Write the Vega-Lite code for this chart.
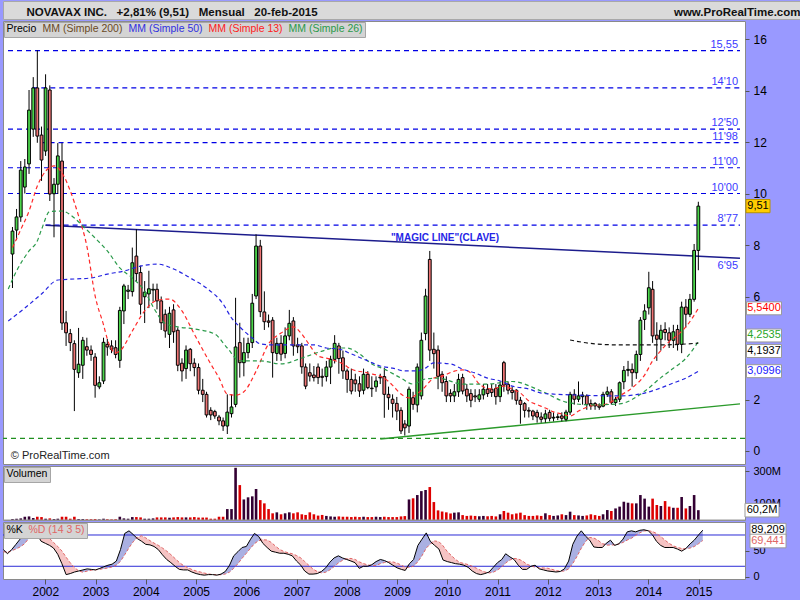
{
"$schema":"https://vega.github.io/schema/vega-lite/v6.json",
"background":"#9999ff",
"padding":{"left":0,"top":0,"right":0,"bottom":2},
"autosize":{"type":"pad"},
"spacing":2,
"bounds":"flush",
"config":{"view":{"stroke":"#8a8a8a","fill":"#ffffff"},"font":"Liberation Sans",
"axis":{"labelFont":"Liberation Sans","labelFontSize":12,"labelColor":"#000000","tickColor":"#555555","domain":false,"grid":false,"labelOverlap":false},
"legend":{"orient":"top-left","direction":"horizontal","offset":1,"padding":2,"fillColor":"#d4d4d4","strokeColor":"#a6a6a6","symbolType":"circle","symbolSize":0,"symbolStrokeWidth":0,"symbolOpacity":0,"labelOffset":-10,"columnPadding":5,"labelFont":"Liberation Sans","labelFontSize":10.5,"labelLimit":300}},
"datasets":{
"candles":[
{"d":"2001-04-01","o":7.65,"h":8.7,"l":6.33,"c":8.54,"v":6},
{"d":"2001-05-01","o":8.58,"h":9.4,"l":8.19,"c":9.09,"v":8},
{"d":"2001-06-01","o":9.09,"h":11.26,"l":8.9,"c":10.91,"v":10},
{"d":"2001-07-01","o":10.25,"h":11.34,"l":10.0,"c":11.03,"v":20},
{"d":"2001-08-01","o":11.15,"h":14.02,"l":10.76,"c":13.24,"v":22},
{"d":"2001-09-01","o":12.5,"h":14.52,"l":12.2,"c":14.1,"v":12},
{"d":"2001-10-01","o":14.1,"h":15.56,"l":11.97,"c":12.23,"v":20},
{"d":"2001-11-01","o":12.27,"h":12.6,"l":10.49,"c":11.3,"v":18},
{"d":"2001-12-01","o":11.65,"h":14.63,"l":11.46,"c":14.1,"v":8},
{"d":"2002-01-01","o":14.02,"h":14.2,"l":9.71,"c":9.98,"v":10},
{"d":"2002-02-01","o":9.99,"h":10.6,"l":8.3,"c":10.36,"v":6},
{"d":"2002-03-01","o":10.36,"h":11.96,"l":9.98,"c":11.46,"v":8},
{"d":"2002-04-01","o":11.26,"h":11.96,"l":4.7,"c":4.97,"v":20},
{"d":"2002-05-01","o":4.98,"h":5.44,"l":4.08,"c":4.59,"v":20},
{"d":"2002-06-01","o":4.56,"h":4.74,"l":3.88,"c":4.21,"v":8},
{"d":"2002-07-01","o":4.17,"h":4.3,"l":1.55,"c":3.17,"v":20},
{"d":"2002-08-01","o":3.04,"h":4.78,"l":2.84,"c":3.37,"v":6},
{"d":"2002-09-01","o":3.33,"h":4.43,"l":2.8,"c":4.3,"v":6},
{"d":"2002-10-01","o":4.05,"h":4.4,"l":3.7,"c":3.92,"v":5},
{"d":"2002-11-01","o":3.92,"h":4.1,"l":3.5,"c":3.75,"v":5},
{"d":"2002-12-01","o":3.65,"h":3.8,"l":2.07,"c":2.55,"v":6},
{"d":"2003-01-01","o":2.49,"h":2.9,"l":2.4,"c":2.65,"v":4},
{"d":"2003-02-01","o":2.72,"h":4.4,"l":2.6,"c":4.22,"v":8},
{"d":"2003-03-01","o":4.14,"h":4.35,"l":3.7,"c":4.04,"v":5},
{"d":"2003-04-01","o":4.08,"h":4.3,"l":3.8,"c":3.95,"v":4},
{"d":"2003-05-01","o":4.01,"h":4.3,"l":3.6,"c":3.75,"v":5},
{"d":"2003-06-01","o":3.52,"h":5.6,"l":3.23,"c":5.46,"v":20},
{"d":"2003-07-01","o":5.44,"h":6.49,"l":4.93,"c":6.41,"v":10},
{"d":"2003-08-01","o":6.2,"h":6.45,"l":5.9,"c":6.25,"v":8},
{"d":"2003-09-01","o":6.19,"h":7.9,"l":6.0,"c":7.31,"v":18},
{"d":"2003-10-01","o":7.57,"h":8.61,"l":6.6,"c":6.89,"v":18},
{"d":"2003-11-01","o":6.93,"h":7.2,"l":5.3,"c":5.7,"v":16},
{"d":"2003-12-01","o":5.99,"h":6.6,"l":4.97,"c":6.17,"v":8},
{"d":"2004-01-01","o":6.1,"h":7.0,"l":5.55,"c":6.3,"v":8},
{"d":"2004-02-01","o":6.25,"h":6.5,"l":5.8,"c":6.28,"v":10},
{"d":"2004-03-01","o":6.28,"h":6.5,"l":5.5,"c":5.83,"v":16},
{"d":"2004-04-01","o":5.83,"h":6.0,"l":4.7,"c":4.98,"v":16},
{"d":"2004-05-01","o":5.31,"h":5.5,"l":4.4,"c":4.66,"v":16},
{"d":"2004-06-01","o":4.53,"h":5.6,"l":4.0,"c":5.35,"v":14},
{"d":"2004-07-01","o":5.48,"h":5.7,"l":4.2,"c":4.63,"v":16},
{"d":"2004-08-01","o":4.69,"h":4.8,"l":3.1,"c":3.33,"v":18},
{"d":"2004-09-01","o":3.41,"h":3.6,"l":2.7,"c":3.11,"v":16},
{"d":"2004-10-01","o":3.2,"h":4.1,"l":2.8,"c":3.92,"v":16},
{"d":"2004-11-01","o":3.95,"h":4.0,"l":3.1,"c":3.39,"v":16},
{"d":"2004-12-01","o":3.41,"h":3.6,"l":2.9,"c":3.24,"v":18},
{"d":"2005-01-01","o":3.24,"h":3.4,"l":2.2,"c":2.36,"v":15},
{"d":"2005-02-01","o":2.36,"h":2.8,"l":1.9,"c":2.2,"v":15},
{"d":"2005-03-01","o":2.2,"h":2.3,"l":1.3,"c":1.4,"v":15},
{"d":"2005-04-01","o":1.58,"h":1.7,"l":1.2,"c":1.4,"v":8},
{"d":"2005-05-01","o":1.53,"h":1.6,"l":1.25,"c":1.36,"v":8},
{"d":"2005-06-01","o":1.32,"h":1.4,"l":1.0,"c":1.17,"v":20},
{"d":"2005-07-01","o":1.17,"h":1.3,"l":0.78,"c":0.97,"v":20},
{"d":"2005-08-01","o":0.97,"h":2.2,"l":0.66,"c":1.51,"v":67},
{"d":"2005-09-01","o":1.45,"h":2.2,"l":1.3,"c":1.71,"v":67},
{"d":"2005-10-01","o":1.81,"h":5.95,"l":1.7,"c":4.04,"v":320},
{"d":"2005-11-01","o":4.21,"h":4.98,"l":2.85,"c":3.43,"v":214},
{"d":"2005-12-01","o":3.43,"h":4.4,"l":2.9,"c":3.82,"v":126},
{"d":"2006-01-01","o":3.82,"h":4.4,"l":3.6,"c":4.18,"v":139},
{"d":"2006-02-01","o":4.21,"h":6.1,"l":4.0,"c":5.74,"v":145},
{"d":"2006-03-01","o":6.02,"h":8.41,"l":5.9,"c":7.96,"v":190},
{"d":"2006-04-01","o":7.96,"h":8.2,"l":5.2,"c":5.41,"v":122},
{"d":"2006-05-01","o":5.4,"h":6.2,"l":4.7,"c":5.02,"v":102},
{"d":"2006-06-01","o":5.05,"h":5.3,"l":4.8,"c":5.0,"v":67},
{"d":"2006-07-01","o":5.08,"h":5.2,"l":2.85,"c":3.82,"v":41},
{"d":"2006-08-01","o":3.79,"h":4.4,"l":3.5,"c":4.18,"v":47},
{"d":"2006-09-01","o":4.18,"h":4.5,"l":3.5,"c":3.76,"v":35},
{"d":"2006-10-01","o":3.79,"h":4.8,"l":3.6,"c":4.47,"v":41},
{"d":"2006-11-01","o":4.47,"h":5.48,"l":4.3,"c":4.96,"v":47},
{"d":"2006-12-01","o":5.05,"h":5.2,"l":3.7,"c":4.08,"v":41},
{"d":"2007-01-01","o":4.12,"h":4.4,"l":3.8,"c":4.05,"v":47},
{"d":"2007-02-01","o":4.08,"h":4.2,"l":3.0,"c":3.27,"v":35},
{"d":"2007-03-01","o":3.26,"h":3.4,"l":2.4,"c":2.52,"v":31},
{"d":"2007-04-01","o":3.04,"h":3.4,"l":2.7,"c":2.91,"v":47},
{"d":"2007-05-01","o":2.95,"h":3.3,"l":2.7,"c":2.85,"v":35},
{"d":"2007-06-01","o":3.26,"h":3.4,"l":2.6,"c":2.85,"v":27},
{"d":"2007-07-01","o":2.9,"h":3.2,"l":2.5,"c":2.86,"v":31},
{"d":"2007-08-01","o":2.89,"h":3.5,"l":2.7,"c":3.26,"v":25},
{"d":"2007-09-01","o":3.26,"h":3.7,"l":2.6,"c":3.56,"v":22},
{"d":"2007-10-01","o":3.56,"h":4.5,"l":3.4,"c":4.18,"v":20},
{"d":"2007-11-01","o":4.08,"h":4.2,"l":3.0,"c":3.59,"v":22},
{"d":"2007-12-01","o":3.62,"h":3.9,"l":2.8,"c":3.11,"v":20},
{"d":"2008-01-01","o":3.11,"h":3.2,"l":2.26,"c":2.78,"v":20},
{"d":"2008-02-01","o":2.78,"h":3.2,"l":2.2,"c":2.33,"v":18},
{"d":"2008-03-01","o":2.76,"h":3.0,"l":2.3,"c":2.61,"v":20},
{"d":"2008-04-01","o":2.61,"h":2.9,"l":2.1,"c":2.33,"v":18},
{"d":"2008-05-01","o":2.36,"h":3.2,"l":2.2,"c":2.98,"v":20},
{"d":"2008-06-01","o":2.98,"h":3.1,"l":2.4,"c":2.46,"v":18},
{"d":"2008-07-01","o":2.44,"h":2.9,"l":2.1,"c":2.42,"v":18},
{"d":"2008-08-01","o":2.49,"h":2.9,"l":2.3,"c":2.72,"v":20},
{"d":"2008-09-01","o":2.84,"h":3.0,"l":2.6,"c":2.87,"v":18},
{"d":"2008-10-01","o":2.89,"h":3.23,"l":1.29,"c":2.2,"v":20},
{"d":"2008-11-01","o":2.2,"h":2.5,"l":1.6,"c":2.07,"v":18},
{"d":"2008-12-01","o":2.01,"h":2.2,"l":1.3,"c":1.85,"v":18},
{"d":"2009-01-01","o":1.85,"h":2.1,"l":1.2,"c":1.55,"v":18},
{"d":"2009-02-01","o":1.58,"h":1.7,"l":0.66,"c":0.78,"v":22},
{"d":"2009-03-01","o":1.05,"h":1.2,"l":0.6,"c":0.9,"v":24},
{"d":"2009-04-01","o":0.97,"h":2.5,"l":0.7,"c":2.4,"v":126},
{"d":"2009-05-01","o":2.07,"h":2.3,"l":1.6,"c":1.81,"v":133},
{"d":"2009-06-01","o":1.79,"h":3.4,"l":1.5,"c":3.26,"v":153},
{"d":"2009-07-01","o":2.14,"h":4.6,"l":2.0,"c":4.3,"v":177},
{"d":"2009-08-01","o":4.56,"h":6.3,"l":4.3,"c":6.02,"v":184},
{"d":"2009-09-01","o":7.44,"h":7.77,"l":3.5,"c":3.92,"v":202},
{"d":"2009-10-01","o":3.95,"h":4.6,"l":3.2,"c":3.78,"v":110},
{"d":"2009-11-01","o":3.92,"h":4.1,"l":2.4,"c":2.9,"v":59},
{"d":"2009-12-01","o":2.98,"h":3.1,"l":2.3,"c":2.65,"v":52},
{"d":"2010-01-01","o":2.7,"h":2.9,"l":1.9,"c":2.14,"v":47},
{"d":"2010-02-01","o":2.24,"h":2.4,"l":1.9,"c":2.14,"v":40},
{"d":"2010-03-01","o":2.14,"h":2.6,"l":1.9,"c":2.3,"v":45},
{"d":"2010-04-01","o":2.3,"h":3.0,"l":2.1,"c":2.78,"v":47},
{"d":"2010-05-01","o":2.85,"h":3.0,"l":2.2,"c":2.33,"v":30},
{"d":"2010-06-01","o":2.4,"h":2.6,"l":1.9,"c":2.14,"v":25},
{"d":"2010-07-01","o":2.23,"h":2.4,"l":1.7,"c":1.97,"v":27},
{"d":"2010-08-01","o":2.14,"h":2.4,"l":1.9,"c":2.1,"v":25},
{"d":"2010-09-01","o":2.01,"h":2.4,"l":1.9,"c":2.18,"v":23},
{"d":"2010-10-01","o":2.18,"h":2.6,"l":2.0,"c":2.4,"v":25},
{"d":"2010-11-01","o":2.4,"h":2.6,"l":2.1,"c":2.23,"v":23},
{"d":"2010-12-01","o":2.4,"h":2.6,"l":2.1,"c":2.27,"v":25},
{"d":"2011-01-01","o":2.43,"h":2.6,"l":1.8,"c":2.11,"v":22},
{"d":"2011-02-01","o":2.11,"h":2.7,"l":1.9,"c":2.56,"v":35},
{"d":"2011-03-01","o":3.43,"h":3.5,"l":2.3,"c":2.56,"v":55},
{"d":"2011-04-01","o":2.59,"h":2.7,"l":2.2,"c":2.36,"v":45},
{"d":"2011-05-01","o":2.36,"h":2.5,"l":2.0,"c":2.27,"v":35},
{"d":"2011-06-01","o":2.36,"h":2.4,"l":1.8,"c":1.97,"v":40},
{"d":"2011-07-01","o":1.97,"h":2.1,"l":1.06,"c":1.81,"v":45},
{"d":"2011-08-01","o":1.84,"h":1.9,"l":1.3,"c":1.58,"v":30},
{"d":"2011-09-01","o":1.58,"h":1.7,"l":1.3,"c":1.55,"v":25},
{"d":"2011-10-01","o":1.55,"h":1.6,"l":1.2,"c":1.36,"v":25},
{"d":"2011-11-01","o":1.5,"h":1.6,"l":1.1,"c":1.32,"v":28},
{"d":"2011-12-01","o":1.32,"h":1.5,"l":1.1,"c":1.23,"v":25},
{"d":"2012-01-01","o":1.25,"h":1.6,"l":1.1,"c":1.44,"v":41},
{"d":"2012-02-01","o":1.5,"h":1.6,"l":1.15,"c":1.27,"v":30},
{"d":"2012-03-01","o":1.28,"h":1.5,"l":1.15,"c":1.31,"v":25},
{"d":"2012-04-01","o":1.3,"h":1.45,"l":1.2,"c":1.33,"v":28},
{"d":"2012-05-01","o":1.36,"h":1.5,"l":1.15,"c":1.27,"v":35},
{"d":"2012-06-01","o":1.23,"h":1.6,"l":1.15,"c":1.51,"v":30},
{"d":"2012-07-01","o":1.51,"h":2.3,"l":1.4,"c":2.2,"v":51},
{"d":"2012-08-01","o":2.2,"h":2.4,"l":1.8,"c":2.01,"v":30},
{"d":"2012-09-01","o":2.01,"h":2.7,"l":1.9,"c":2.14,"v":28},
{"d":"2012-10-01","o":2.11,"h":2.3,"l":1.8,"c":2.17,"v":25},
{"d":"2012-11-01","o":2.14,"h":2.2,"l":1.6,"c":1.81,"v":28},
{"d":"2012-12-01","o":1.84,"h":2.0,"l":1.6,"c":1.75,"v":35},
{"d":"2013-01-01","o":1.84,"h":1.9,"l":1.6,"c":1.75,"v":30},
{"d":"2013-02-01","o":1.75,"h":1.85,"l":1.6,"c":1.7,"v":25},
{"d":"2013-03-01","o":1.74,"h":2.3,"l":1.7,"c":2.2,"v":35},
{"d":"2013-04-01","o":2.2,"h":2.5,"l":2.1,"c":2.3,"v":61},
{"d":"2013-05-01","o":2.3,"h":2.4,"l":1.8,"c":1.88,"v":55},
{"d":"2013-06-01","o":1.88,"h":2.1,"l":1.75,"c":2.01,"v":71},
{"d":"2013-07-01","o":2.01,"h":2.7,"l":1.9,"c":2.65,"v":82},
{"d":"2013-08-01","o":2.69,"h":3.3,"l":2.4,"c":3.13,"v":112},
{"d":"2013-09-01","o":3.13,"h":3.5,"l":2.9,"c":3.17,"v":106},
{"d":"2013-10-01","o":3.17,"h":3.4,"l":2.5,"c":3.04,"v":102},
{"d":"2013-11-01","o":3.04,"h":3.9,"l":2.8,"c":3.75,"v":102},
{"d":"2013-12-01","o":3.75,"h":5.2,"l":3.5,"c":5.08,"v":153},
{"d":"2014-01-01","o":5.11,"h":5.7,"l":4.7,"c":5.44,"v":131},
{"d":"2014-02-01","o":5.56,"h":6.96,"l":5.3,"c":6.34,"v":82},
{"d":"2014-03-01","o":6.28,"h":6.6,"l":4.2,"c":4.47,"v":131},
{"d":"2014-04-01","o":4.5,"h":5.0,"l":3.5,"c":4.34,"v":92},
{"d":"2014-05-01","o":4.34,"h":4.9,"l":3.9,"c":4.69,"v":86},
{"d":"2014-06-01","o":4.72,"h":5.0,"l":4.3,"c":4.6,"v":116},
{"d":"2014-07-01","o":4.59,"h":4.8,"l":4.0,"c":4.3,"v":82},
{"d":"2014-08-01","o":4.3,"h":4.9,"l":4.0,"c":4.63,"v":75},
{"d":"2014-09-01","o":4.72,"h":4.9,"l":3.9,"c":4.14,"v":75},
{"d":"2014-10-01","o":4.14,"h":5.8,"l":3.8,"c":5.59,"v":141},
{"d":"2014-11-01","o":5.59,"h":5.9,"l":4.8,"c":5.31,"v":71},
{"d":"2014-12-01","o":5.31,"h":6.1,"l":5.2,"c":5.89,"v":86},
{"d":"2015-01-01","o":5.89,"h":8.04,"l":5.8,"c":7.79,"v":153},
{"d":"2015-02-01","o":7.79,"h":9.68,"l":7.02,"c":9.51,"v":60.2}
],
"ma":[
{"name":"MM (Simple 13)","date":"2001-04-01","v":7.9},
{"name":"MM (Simple 13)","date":"2001-06-01","v":8.6},
{"name":"MM (Simple 13)","date":"2001-08-01","v":9.32},
{"name":"MM (Simple 13)","date":"2001-10-01","v":10.29},
{"name":"MM (Simple 13)","date":"2001-12-01","v":10.87},
{"name":"MM (Simple 13)","date":"2002-02-01","v":11.07},
{"name":"MM (Simple 13)","date":"2002-04-01","v":10.8},
{"name":"MM (Simple 13)","date":"2002-06-01","v":10.1},
{"name":"MM (Simple 13)","date":"2002-08-01","v":9.13},
{"name":"MM (Simple 13)","date":"2002-10-01","v":7.96},
{"name":"MM (Simple 13)","date":"2002-12-01","v":6.02},
{"name":"MM (Simple 13)","date":"2003-02-01","v":4.9},
{"name":"MM (Simple 13)","date":"2003-03-01","v":4.35},
{"name":"MM (Simple 13)","date":"2003-05-01","v":3.81},
{"name":"MM (Simple 13)","date":"2003-06-01","v":3.88},
{"name":"MM (Simple 13)","date":"2003-09-01","v":4.66},
{"name":"MM (Simple 13)","date":"2003-12-01","v":5.44},
{"name":"MM (Simple 13)","date":"2004-03-01","v":5.85},
{"name":"MM (Simple 13)","date":"2004-06-01","v":5.9},
{"name":"MM (Simple 13)","date":"2004-09-01","v":5.44},
{"name":"MM (Simple 13)","date":"2004-12-01","v":4.54},
{"name":"MM (Simple 13)","date":"2005-04-01","v":3.38},
{"name":"MM (Simple 13)","date":"2005-06-01","v":2.84},
{"name":"MM (Simple 13)","date":"2005-08-01","v":2.21},
{"name":"MM (Simple 13)","date":"2005-10-01","v":2.17},
{"name":"MM (Simple 13)","date":"2005-12-01","v":2.3},
{"name":"MM (Simple 13)","date":"2006-03-01","v":3.1},
{"name":"MM (Simple 13)","date":"2006-06-01","v":4.16},
{"name":"MM (Simple 13)","date":"2006-09-01","v":4.58},
{"name":"MM (Simple 13)","date":"2006-12-01","v":4.82},
{"name":"MM (Simple 13)","date":"2007-02-01","v":4.54},
{"name":"MM (Simple 13)","date":"2007-04-01","v":4.1},
{"name":"MM (Simple 13)","date":"2007-06-01","v":3.69},
{"name":"MM (Simple 13)","date":"2007-09-01","v":3.57},
{"name":"MM (Simple 13)","date":"2007-12-01","v":3.38},
{"name":"MM (Simple 13)","date":"2008-02-01","v":3.18},
{"name":"MM (Simple 13)","date":"2008-06-01","v":3.03},
{"name":"MM (Simple 13)","date":"2008-10-01","v":2.83},
{"name":"MM (Simple 13)","date":"2008-12-01","v":2.55},
{"name":"MM (Simple 13)","date":"2009-02-01","v":2.21},
{"name":"MM (Simple 13)","date":"2009-04-01","v":2.06},
{"name":"MM (Simple 13)","date":"2009-07-01","v":2.35},
{"name":"MM (Simple 13)","date":"2009-10-01","v":2.83},
{"name":"MM (Simple 13)","date":"2009-12-01","v":2.91},
{"name":"MM (Simple 13)","date":"2010-03-01","v":3.1},
{"name":"MM (Simple 13)","date":"2010-05-01","v":3.15},
{"name":"MM (Simple 13)","date":"2010-07-01","v":3.03},
{"name":"MM (Simple 13)","date":"2010-09-01","v":2.6},
{"name":"MM (Simple 13)","date":"2010-12-01","v":2.41},
{"name":"MM (Simple 13)","date":"2011-03-01","v":2.52},
{"name":"MM (Simple 13)","date":"2011-05-01","v":2.4},
{"name":"MM (Simple 13)","date":"2011-07-01","v":2.25},
{"name":"MM (Simple 13)","date":"2011-09-01","v":1.94},
{"name":"MM (Simple 13)","date":"2011-11-01","v":1.8},
{"name":"MM (Simple 13)","date":"2012-01-01","v":1.67},
{"name":"MM (Simple 13)","date":"2012-03-01","v":1.52},
{"name":"MM (Simple 13)","date":"2012-05-01","v":1.44},
{"name":"MM (Simple 13)","date":"2012-07-01","v":1.36},
{"name":"MM (Simple 13)","date":"2012-09-01","v":1.55},
{"name":"MM (Simple 13)","date":"2012-12-01","v":1.75},
{"name":"MM (Simple 13)","date":"2013-04-01","v":1.83},
{"name":"MM (Simple 13)","date":"2013-07-01","v":2.14},
{"name":"MM (Simple 13)","date":"2013-10-01","v":2.45},
{"name":"MM (Simple 13)","date":"2014-01-01","v":2.95},
{"name":"MM (Simple 13)","date":"2014-03-01","v":3.5},
{"name":"MM (Simple 13)","date":"2014-05-01","v":3.9},
{"name":"MM (Simple 13)","date":"2014-07-01","v":4.25},
{"name":"MM (Simple 13)","date":"2014-09-01","v":4.5},
{"name":"MM (Simple 13)","date":"2014-11-01","v":4.82},
{"name":"MM (Simple 13)","date":"2015-02-01","v":5.54},
{"name":"MM (Simple 26)","date":"2001-03-01","v":6.29},
{"name":"MM (Simple 26)","date":"2001-05-01","v":6.99},
{"name":"MM (Simple 26)","date":"2001-08-01","v":7.77},
{"name":"MM (Simple 26)","date":"2001-10-01","v":8.16},
{"name":"MM (Simple 26)","date":"2001-11-01","v":8.6},
{"name":"MM (Simple 26)","date":"2002-01-01","v":9.3},
{"name":"MM (Simple 26)","date":"2002-04-01","v":9.32},
{"name":"MM (Simple 26)","date":"2002-07-01","v":9.05},
{"name":"MM (Simple 26)","date":"2002-09-01","v":8.74},
{"name":"MM (Simple 26)","date":"2002-12-01","v":8.27},
{"name":"MM (Simple 26)","date":"2003-03-01","v":7.77},
{"name":"MM (Simple 26)","date":"2003-06-01","v":7.11},
{"name":"MM (Simple 26)","date":"2003-09-01","v":6.72},
{"name":"MM (Simple 26)","date":"2003-12-01","v":6.21},
{"name":"MM (Simple 26)","date":"2004-02-01","v":5.6},
{"name":"MM (Simple 26)","date":"2004-05-01","v":4.95},
{"name":"MM (Simple 26)","date":"2004-08-01","v":4.82},
{"name":"MM (Simple 26)","date":"2004-12-01","v":4.74},
{"name":"MM (Simple 26)","date":"2005-05-01","v":4.54},
{"name":"MM (Simple 26)","date":"2005-08-01","v":4.0},
{"name":"MM (Simple 26)","date":"2005-11-01","v":3.5},
{"name":"MM (Simple 26)","date":"2006-04-01","v":3.5},
{"name":"MM (Simple 26)","date":"2006-09-01","v":3.38},
{"name":"MM (Simple 26)","date":"2007-02-01","v":3.61},
{"name":"MM (Simple 26)","date":"2007-07-01","v":3.88},
{"name":"MM (Simple 26)","date":"2007-10-01","v":4.0},
{"name":"MM (Simple 26)","date":"2008-01-01","v":4.0},
{"name":"MM (Simple 26)","date":"2008-04-01","v":3.77},
{"name":"MM (Simple 26)","date":"2008-07-01","v":3.38},
{"name":"MM (Simple 26)","date":"2008-10-01","v":3.18},
{"name":"MM (Simple 26)","date":"2009-02-01","v":2.83},
{"name":"MM (Simple 26)","date":"2009-05-01","v":2.6},
{"name":"MM (Simple 26)","date":"2009-08-01","v":2.8},
{"name":"MM (Simple 26)","date":"2009-11-01","v":2.83},
{"name":"MM (Simple 26)","date":"2010-05-01","v":2.6},
{"name":"MM (Simple 26)","date":"2010-11-01","v":2.6},
{"name":"MM (Simple 26)","date":"2011-05-01","v":2.7},
{"name":"MM (Simple 26)","date":"2011-12-01","v":2.33},
{"name":"MM (Simple 26)","date":"2012-06-01","v":1.9},
{"name":"MM (Simple 26)","date":"2012-12-01","v":1.79},
{"name":"MM (Simple 26)","date":"2013-07-01","v":1.83},
{"name":"MM (Simple 26)","date":"2014-01-01","v":2.32},
{"name":"MM (Simple 26)","date":"2014-05-01","v":2.85},
{"name":"MM (Simple 26)","date":"2014-08-01","v":3.21},
{"name":"MM (Simple 26)","date":"2014-11-01","v":3.6},
{"name":"MM (Simple 26)","date":"2015-02-01","v":4.25},
{"name":"MM (Simple 50)","date":"2001-03-01","v":5.05},
{"name":"MM (Simple 50)","date":"2001-07-01","v":5.55},
{"name":"MM (Simple 50)","date":"2001-11-01","v":6.1},
{"name":"MM (Simple 50)","date":"2002-03-01","v":6.64},
{"name":"MM (Simple 50)","date":"2002-07-01","v":6.68},
{"name":"MM (Simple 50)","date":"2002-11-01","v":6.72},
{"name":"MM (Simple 50)","date":"2003-03-01","v":6.87},
{"name":"MM (Simple 50)","date":"2003-07-01","v":6.99},
{"name":"MM (Simple 50)","date":"2003-11-01","v":7.18},
{"name":"MM (Simple 50)","date":"2004-03-01","v":7.26},
{"name":"MM (Simple 50)","date":"2004-07-01","v":7.07},
{"name":"MM (Simple 50)","date":"2004-11-01","v":6.72},
{"name":"MM (Simple 50)","date":"2005-03-01","v":6.33},
{"name":"MM (Simple 50)","date":"2005-07-01","v":5.71},
{"name":"MM (Simple 50)","date":"2005-09-01","v":5.17},
{"name":"MM (Simple 50)","date":"2005-11-01","v":4.82},
{"name":"MM (Simple 50)","date":"2006-02-01","v":4.39},
{"name":"MM (Simple 50)","date":"2006-04-01","v":4.16},
{"name":"MM (Simple 50)","date":"2006-07-01","v":4.12},
{"name":"MM (Simple 50)","date":"2006-12-01","v":4.12},
{"name":"MM (Simple 50)","date":"2007-05-01","v":4.12},
{"name":"MM (Simple 50)","date":"2007-08-01","v":4.0},
{"name":"MM (Simple 50)","date":"2007-11-01","v":3.96},
{"name":"MM (Simple 50)","date":"2008-02-01","v":3.77},
{"name":"MM (Simple 50)","date":"2008-06-01","v":3.5},
{"name":"MM (Simple 50)","date":"2008-09-01","v":3.3},
{"name":"MM (Simple 50)","date":"2008-12-01","v":3.22},
{"name":"MM (Simple 50)","date":"2009-03-01","v":3.11},
{"name":"MM (Simple 50)","date":"2009-06-01","v":3.11},
{"name":"MM (Simple 50)","date":"2009-08-01","v":3.22},
{"name":"MM (Simple 50)","date":"2009-10-01","v":3.42},
{"name":"MM (Simple 50)","date":"2010-02-01","v":3.38},
{"name":"MM (Simple 50)","date":"2010-05-01","v":3.18},
{"name":"MM (Simple 50)","date":"2010-08-01","v":3.03},
{"name":"MM (Simple 50)","date":"2010-11-01","v":2.83},
{"name":"MM (Simple 50)","date":"2011-02-01","v":2.72},
{"name":"MM (Simple 50)","date":"2011-05-01","v":2.52},
{"name":"MM (Simple 50)","date":"2011-09-01","v":2.41},
{"name":"MM (Simple 50)","date":"2011-12-01","v":2.25},
{"name":"MM (Simple 50)","date":"2012-03-01","v":2.21},
{"name":"MM (Simple 50)","date":"2012-09-01","v":2.17},
{"name":"MM (Simple 50)","date":"2013-07-01","v":2.14},
{"name":"MM (Simple 50)","date":"2014-01-01","v":2.25},
{"name":"MM (Simple 50)","date":"2014-05-01","v":2.45},
{"name":"MM (Simple 50)","date":"2014-08-01","v":2.64},
{"name":"MM (Simple 50)","date":"2014-11-01","v":2.83},
{"name":"MM (Simple 50)","date":"2015-02-01","v":3.1},
{"name":"MM (Simple 200)","date":"2012-07-01","v":4.31},
{"name":"MM (Simple 200)","date":"2013-01-01","v":4.16},
{"name":"MM (Simple 200)","date":"2013-07-01","v":4.12},
{"name":"MM (Simple 200)","date":"2014-05-01","v":4.12},
{"name":"MM (Simple 200)","date":"2015-02-01","v":4.19}
],
"stoch":[
{"date":"2001-03-01","k":52,"d":48},{"date":"2001-04-01","k":44,"d":47},{"date":"2001-05-01","k":52,"d":50},{"date":"2001-06-01","k":62,"d":53},{"date":"2001-07-01","k":72,"d":57},{"date":"2001-08-01","k":84,"d":62.8},{"date":"2001-09-01","k":94,"d":72.8},{"date":"2001-10-01","k":92,"d":80.8},{"date":"2001-11-01","k":82,"d":84.8},{"date":"2001-12-01","k":68,"d":84},
{"date":"2002-01-01","k":64,"d":80},{"date":"2002-02-01","k":60,"d":73.2},{"date":"2002-03-01","k":55,"d":65.8},{"date":"2002-04-01","k":43,"d":58},{"date":"2002-05-01","k":25,"d":49.4},{"date":"2002-06-01","k":4,"d":37.4},{"date":"2002-07-01","k":6,"d":26.6},{"date":"2002-08-01","k":9,"d":17.4},{"date":"2002-09-01","k":11,"d":11},{"date":"2002-10-01","k":13,"d":8.6},{"date":"2002-11-01","k":15,"d":10.8},{"date":"2002-12-01","k":14,"d":12.4},
{"date":"2003-01-01","k":13,"d":13.2},{"date":"2003-02-01","k":16,"d":14.2},{"date":"2003-03-01","k":19,"d":15.4},{"date":"2003-04-01","k":22,"d":16.8},{"date":"2003-05-01","k":24,"d":18.8},{"date":"2003-06-01","k":30,"d":22.2},{"date":"2003-07-01","k":52,"d":29.4},{"date":"2003-08-01","k":83,"d":42.2},{"date":"2003-09-01","k":88,"d":55.4},{"date":"2003-10-01","k":81,"d":66.8},{"date":"2003-11-01","k":73,"d":75.4},{"date":"2003-12-01","k":68,"d":78.6},
{"date":"2004-01-01","k":62,"d":74.4},{"date":"2004-02-01","k":61,"d":69},{"date":"2004-03-01","k":58,"d":64.4},{"date":"2004-04-01","k":52,"d":60.2},{"date":"2004-05-01","k":42,"d":55},{"date":"2004-06-01","k":33,"d":49.2},{"date":"2004-07-01","k":27,"d":42.4},{"date":"2004-08-01","k":20,"d":34.8},{"date":"2004-09-01","k":14,"d":27.2},{"date":"2004-10-01","k":13,"d":21.4},{"date":"2004-11-01","k":13,"d":17.4},{"date":"2004-12-01","k":9,"d":13.8},
{"date":"2005-01-01","k":6,"d":11},{"date":"2005-02-01","k":4,"d":9},{"date":"2005-03-01","k":3,"d":7},{"date":"2005-04-01","k":4,"d":5.2},{"date":"2005-05-01","k":4,"d":4.2},{"date":"2005-06-01","k":3,"d":3.6},{"date":"2005-07-01","k":5,"d":3.8},{"date":"2005-08-01","k":10,"d":5.2},{"date":"2005-09-01","k":22,"d":8.8},{"date":"2005-10-01","k":40,"d":16},{"date":"2005-11-01","k":48,"d":25},{"date":"2005-12-01","k":56,"d":35.2},
{"date":"2006-01-01","k":58,"d":44.8},{"date":"2006-02-01","k":72,"d":54.8},{"date":"2006-03-01","k":83,"d":63.4},{"date":"2006-04-01","k":77,"d":69.2},{"date":"2006-05-01","k":64,"d":70.8},{"date":"2006-06-01","k":56,"d":70.4},{"date":"2006-07-01","k":49,"d":65.8},{"date":"2006-08-01","k":47,"d":58.6},{"date":"2006-09-01","k":45,"d":52.2},{"date":"2006-10-01","k":45,"d":48.4},{"date":"2006-11-01","k":43,"d":45.8},{"date":"2006-12-01","k":40,"d":44},
{"date":"2007-01-01","k":30,"d":40.6},{"date":"2007-02-01","k":22,"d":36},{"date":"2007-03-01","k":11,"d":29.2},{"date":"2007-04-01","k":5,"d":21.6},{"date":"2007-05-01","k":5,"d":14.6},{"date":"2007-06-01","k":6,"d":9.8},{"date":"2007-07-01","k":10,"d":7.4},{"date":"2007-08-01","k":17,"d":8.6},{"date":"2007-09-01","k":28,"d":13.2},{"date":"2007-10-01","k":36,"d":19.4},{"date":"2007-11-01","k":40,"d":26.2},{"date":"2007-12-01","k":36,"d":31.4},
{"date":"2008-01-01","k":33,"d":34.6},{"date":"2008-02-01","k":30,"d":35},{"date":"2008-03-01","k":27,"d":33.2},{"date":"2008-04-01","k":16,"d":28.4},{"date":"2008-05-01","k":20,"d":25.2},{"date":"2008-06-01","k":20,"d":22.6},{"date":"2008-07-01","k":23,"d":21.2},{"date":"2008-08-01","k":29,"d":21.6},{"date":"2008-09-01","k":33,"d":25},{"date":"2008-10-01","k":31,"d":27.2},{"date":"2008-11-01","k":27,"d":28.6},{"date":"2008-12-01","k":22,"d":28.4},
{"date":"2009-01-01","k":17,"d":26},{"date":"2009-02-01","k":14,"d":22.2},{"date":"2009-03-01","k":12,"d":18.4},{"date":"2009-04-01","k":25,"d":18},{"date":"2009-05-01","k":33,"d":20.2},{"date":"2009-06-01","k":60,"d":28.8},{"date":"2009-07-01","k":72,"d":40.4},{"date":"2009-08-01","k":84,"d":54.8},{"date":"2009-09-01","k":67,"d":63.2},{"date":"2009-10-01","k":60,"d":68.6},{"date":"2009-11-01","k":53,"d":67.2},{"date":"2009-12-01","k":32,"d":59.2},
{"date":"2010-01-01","k":29,"d":48.2},{"date":"2010-02-01","k":27,"d":40.2},{"date":"2010-03-01","k":25,"d":33.2},{"date":"2010-04-01","k":24,"d":27.4},{"date":"2010-05-01","k":22,"d":25.4},{"date":"2010-06-01","k":18,"d":23.2},{"date":"2010-07-01","k":11,"d":20},{"date":"2010-08-01","k":6,"d":16.2},{"date":"2010-09-01","k":4,"d":12.2},{"date":"2010-10-01","k":6,"d":9},{"date":"2010-11-01","k":9,"d":7.2},{"date":"2010-12-01","k":18,"d":8.6},
{"date":"2011-01-01","k":27,"d":12.8},{"date":"2011-02-01","k":33,"d":18.6},{"date":"2011-03-01","k":44,"d":26.2},{"date":"2011-04-01","k":38,"d":32},{"date":"2011-05-01","k":33,"d":35},{"date":"2011-06-01","k":22,"d":34},{"date":"2011-07-01","k":14,"d":30.2},{"date":"2011-08-01","k":14,"d":24.2},{"date":"2011-09-01","k":20,"d":20.6},{"date":"2011-10-01","k":22,"d":18.4},{"date":"2011-11-01","k":15,"d":17},{"date":"2011-12-01","k":13,"d":16.8},
{"date":"2012-01-01","k":11,"d":16.2},{"date":"2012-02-01","k":10,"d":14.2},{"date":"2012-03-01","k":9,"d":11.6},{"date":"2012-04-01","k":10,"d":10.6},{"date":"2012-05-01","k":15,"d":11},{"date":"2012-06-01","k":30,"d":14.8},{"date":"2012-07-01","k":62,"d":25.2},{"date":"2012-08-01","k":78,"d":39},{"date":"2012-09-01","k":88,"d":54.6},{"date":"2012-10-01","k":78,"d":67.2},{"date":"2012-11-01","k":70,"d":75.2},{"date":"2012-12-01","k":57,"d":74.2},
{"date":"2013-01-01","k":56,"d":69.8},{"date":"2013-02-01","k":56,"d":63.4},{"date":"2013-03-01","k":64,"d":60.6},{"date":"2013-04-01","k":70,"d":60.6},{"date":"2013-05-01","k":60,"d":61.2},{"date":"2013-06-01","k":63,"d":62.6},{"date":"2013-07-01","k":72,"d":65.8},{"date":"2013-08-01","k":86,"d":70.2},{"date":"2013-09-01","k":88,"d":73.8},{"date":"2013-10-01","k":86,"d":79},{"date":"2013-11-01","k":89,"d":84.2},{"date":"2013-12-01","k":90,"d":87.8},
{"date":"2014-01-01","k":88,"d":88.2},{"date":"2014-02-01","k":80,"d":86.6},{"date":"2014-03-01","k":68,"d":83},{"date":"2014-04-01","k":60,"d":77.2},{"date":"2014-05-01","k":56,"d":70.4},{"date":"2014-06-01","k":56,"d":64},{"date":"2014-07-01","k":56,"d":59.2},{"date":"2014-08-01","k":53,"d":56.2},{"date":"2014-09-01","k":49,"d":54},{"date":"2014-10-01","k":54,"d":53.6},{"date":"2014-11-01","k":63,"d":55},{"date":"2014-12-01","k":70,"d":57.8},
{"date":"2015-01-01","k":80,"d":63.2},{"date":"2015-02-01","k":89.2,"d":69.4}
],
"levels":[
{"v":15.55,"t":"15,55","s":"2001-02-27"},
{"v":14.1,"t":"14'10","s":"2001-08-25"},
{"v":12.5,"t":"12'50","s":"2001-02-27"},
{"v":11.98,"t":"11'98","s":"2001-10-25"},
{"v":11.0,"t":"11'00","s":"2001-02-27"},
{"v":10.0,"t":"10'00","s":"2001-02-27"},
{"v":8.77,"t":"8'77","s":"2001-12-01"}
]
},
"vconcat":[
{
"width":800,"height":18,
"view":{"fill":"#dadada","stroke":"#a8a8a8"},
"data":{"values":[{"a":0.5}]},
"mark":{"type":"point","size":0,"opacity":0},
"encoding":{
"x":{"field":"a","type":"quantitative","scale":{"domain":[0,1]},"axis":{"orient":"top","domain":false,"ticks":false,"labels":false,"grid":false,"title":"www.ProRealTime.com","titleX":797,"titleY":14,"titleAlign":"right","titleAnchor":null,"titleBaseline":"alphabetic","titleFontSize":11.5,"titleFontWeight":"bold","titleColor":"#111111","titleFont":"Liberation Sans"}},
"y":{"field":"a","type":"quantitative","scale":{"domain":[0,1]},"axis":{"orient":"left","domain":false,"ticks":false,"labels":false,"grid":false,"title":"NOVAVAX INC.\u00a0\u00a0 +2,81% (9,51)\u00a0\u00a0 Mensual\u00a0\u00a0 20-feb-2015","titleAngle":0,"titleX":23,"titleY":14,"titleAlign":"left","titleAnchor":null,"titleBaseline":"alphabetic","titleFontSize":11.5,"titleFontWeight":"bold","titleColor":"#111111","titleFont":"Liberation Sans"}}
}
},
{
"width":742,"height":443,
"layer":[
{"data":{"values":[{"v":0.49}]},"mark":{"type":"rule","stroke":"#1f8f1f","strokeDash":[5,4],"strokeWidth":1.2},
 "encoding":{"y":{"field":"v","type":"quantitative","scale":{"domain":[-0.505,16.7],"nice":false,"zero":false},"axis":{"orient":"right","values":[0,2,6,8,10,12,14,16],"tickSize":4,"labelPadding":4,"title":null}}}},
{"data":{"name":"levels"},"mark":{"type":"rule","stroke":"#0000e6","strokeDash":[5,4],"strokeWidth":1.2},
 "encoding":{"x":{"field":"s","type":"temporal","scale":{"type":"utc","domain":[{"year":2001,"month":2,"date":27,"utc":true},{"year":2015,"month":12,"date":5,"utc":true}]},"axis":null},
 "x2":{"datum":{"year":2015,"month":12,"date":5,"utc":true}},"y":{"field":"v","type":"quantitative"}}},
{"data":{"name":"levels"},"mark":{"type":"text","align":"right","baseline":"alphabetic","dx":-2,"dy":-3,"fontSize":11,"fill":"#3a3aff"},
 "encoding":{"x":{"datum":{"year":2015,"month":12,"date":5,"utc":true},"type":"temporal","axis":null},"y":{"field":"v","type":"quantitative"},"text":{"field":"t"}}},
{"data":{"values":[{"v":6.95,"t":"6'95"}]},"mark":{"type":"text","align":"right","baseline":"alphabetic","dx":-2,"dy":-3,"fontSize":11,"fill":"#3a3aff"},
 "encoding":{"x":{"datum":{"year":2015,"month":12,"date":5,"utc":true},"type":"temporal","axis":null},"y":{"field":"v","type":"quantitative"},"text":{"field":"t"}}},
{"data":{"values":[{"date":"2008-09-01","v":0.47},{"date":"2015-12-05","v":1.83}]},"mark":{"type":"line","stroke":"#2b9a2b","strokeWidth":1.5},
 "encoding":{"x":{"field":"date","type":"temporal","axis":null},"y":{"field":"v","type":"quantitative"}}},
{"data":{"values":[{"date":"2001-12-01","v":8.77},{"date":"2015-12-05","v":7.49}]},"mark":{"type":"line","stroke":"#1c1c8c","strokeWidth":1.5},
 "encoding":{"x":{"field":"date","type":"temporal","axis":null},"y":{"field":"v","type":"quantitative"}}},
{"data":{"name":"candles"},"mark":{"type":"rule","stroke":"#000000","strokeWidth":1},
 "encoding":{"x":{"field":"d","type":"temporal","axis":null},"y":{"field":"l","type":"quantitative"},"y2":{"field":"h"}}},
{"data":{"name":"candles"},"mark":{"type":"bar","size":2.8,"stroke":"#000000","strokeWidth":1},
 "encoding":{"x":{"field":"d","type":"temporal","axis":null},"y":{"field":"o","type":"quantitative"},"y2":{"field":"c"},
 "fill":{"condition":{"test":"datum.c >= datum.o","value":"#4bd64b"},"value":"#ee7474"}}},
{"data":{"name":"ma"},"mark":{"type":"line","strokeDash":[4,3],"strokeWidth":1.2,"interpolate":"monotone"},
 "encoding":{"x":{"field":"date","type":"temporal","axis":null},"y":{"field":"v","type":"quantitative"},
 "color":{"field":"name","type":"nominal","scale":{"domain":["Precio","MM (Simple 200)","MM (Simple 50)","MM (Simple 13)","MM (Simple 26)"],"range":["#000000","#111111","#2424e0","#ff2a2a","#2a9a4a"]},
 "legend":{"title":null,"symbolType":"circle","symbolSize":0,"labelOffset":-10,"columnPadding":5,"encode":{"symbols":{"update":{"size":{"value":0}}},"labels":{"update":{"fill":{"signal":"datum.value === 'MM (Simple 200)' ? '#6b4a1f' : datum.value === 'MM (Simple 50)' ? '#3030e0' : datum.value === 'MM (Simple 13)' ? '#ff2020' : datum.value === 'MM (Simple 26)' ? '#2a9a4a' : '#000000'"}}}}}}}},
{"data":{"values":[{"date":"2009-12-22","v":8.27,"t":"\"MAGIC LINE\"(CLAVE)"}]},"mark":{"type":"text","align":"center","baseline":"middle","fontSize":10,"fontWeight":"bold","fill":"#2525e6"},
 "encoding":{"x":{"field":"date","type":"temporal","axis":null},"y":{"field":"v","type":"quantitative"},"text":{"field":"t"}}},
{"data":{"values":[{"date":"2001-03-20","v":-0.19,"t":"© ProRealTime.com"}]},"mark":{"type":"text","align":"left","baseline":"middle","fontSize":11,"fill":"#222222"},
 "encoding":{"x":{"field":"date","type":"temporal","axis":null},"y":{"field":"v","type":"quantitative"},"text":{"field":"t"}}},
{"data":{"values":[{"v":9.51,"t":"9,51"}]},"mark":{"type":"point","shape":"M-1,-0.55L1,-0.55L1,0.55L-1,0.55Z","size":576,"filled":true,"fill":"#ffcc00","stroke":"#b89400","strokeWidth":1,"opacity":1,"xOffset":18},
 "encoding":{"x":{"datum":{"year":2015,"month":12,"date":5,"utc":true},"type":"temporal","axis":null},"y":{"field":"v","type":"quantitative"}}},
{"data":{"values":[{"v":9.51,"t":"9,51"}]},"mark":{"type":"text","align":"center","baseline":"middle","dx":18,"fontSize":11,"fill":"#000000"},
 "encoding":{"x":{"datum":{"year":2015,"month":12,"date":5,"utc":true},"type":"temporal","axis":null},"y":{"field":"v","type":"quantitative"},"text":{"field":"t"}}},
{"data":{"values":[{"v":5.54,"t":"5,5400"}]},"mark":{"type":"point","shape":"M-1,-0.37L1,-0.37L1,0.37L-1,0.37Z","size":1225,"filled":true,"fill":"#ffffff","stroke":"#9a9a9a","strokeWidth":1,"opacity":1,"xOffset":24},
 "encoding":{"x":{"datum":{"year":2015,"month":12,"date":5,"utc":true},"type":"temporal","axis":null},"y":{"field":"v","type":"quantitative"}}},
{"data":{"values":[{"v":5.54,"t":"5,5400"}]},"mark":{"type":"text","align":"center","baseline":"middle","dx":24,"fontSize":11,"fill":"#ff0000"},
 "encoding":{"x":{"datum":{"year":2015,"month":12,"date":5,"utc":true},"type":"temporal","axis":null},"y":{"field":"v","type":"quantitative"},"text":{"field":"t"}}},
{"data":{"values":[{"v":4.2535,"t":"4,2535"}]},"mark":{"type":"point","shape":"M-1,-0.37L1,-0.37L1,0.37L-1,0.37Z","size":1225,"filled":true,"fill":"#ffffff","stroke":"#9a9a9a","strokeWidth":1,"opacity":1,"xOffset":24,"yOffset":-6},
 "encoding":{"x":{"datum":{"year":2015,"month":12,"date":5,"utc":true},"type":"temporal","axis":null},"y":{"field":"v","type":"quantitative"}}},
{"data":{"values":[{"v":4.2535,"t":"4,2535"}]},"mark":{"type":"text","align":"center","baseline":"middle","dx":24,"dy":-6,"fontSize":11,"fill":"#2aa52a"},
 "encoding":{"x":{"datum":{"year":2015,"month":12,"date":5,"utc":true},"type":"temporal","axis":null},"y":{"field":"v","type":"quantitative"},"text":{"field":"t"}}},
{"data":{"values":[{"v":4.1937,"t":"4,1937"}]},"mark":{"type":"point","shape":"M-1,-0.37L1,-0.37L1,0.37L-1,0.37Z","size":1225,"filled":true,"fill":"#ffffff","stroke":"#9a9a9a","strokeWidth":1,"opacity":1,"xOffset":24,"yOffset":8},
 "encoding":{"x":{"datum":{"year":2015,"month":12,"date":5,"utc":true},"type":"temporal","axis":null},"y":{"field":"v","type":"quantitative"}}},
{"data":{"values":[{"v":4.1937,"t":"4,1937"}]},"mark":{"type":"text","align":"center","baseline":"middle","dx":24,"dy":8,"fontSize":11,"fill":"#000000"},
 "encoding":{"x":{"datum":{"year":2015,"month":12,"date":5,"utc":true},"type":"temporal","axis":null},"y":{"field":"v","type":"quantitative"},"text":{"field":"t"}}},
{"data":{"values":[{"v":3.0996,"t":"3,0996"}]},"mark":{"type":"point","shape":"M-1,-0.37L1,-0.37L1,0.37L-1,0.37Z","size":1225,"filled":true,"fill":"#ffffff","stroke":"#9a9a9a","strokeWidth":1,"opacity":1,"xOffset":24},
 "encoding":{"x":{"datum":{"year":2015,"month":12,"date":5,"utc":true},"type":"temporal","axis":null},"y":{"field":"v","type":"quantitative"}}},
{"data":{"values":[{"v":3.0996,"t":"3,0996"}]},"mark":{"type":"text","align":"center","baseline":"middle","dx":24,"fontSize":11,"fill":"#2020ff"},
 "encoding":{"x":{"datum":{"year":2015,"month":12,"date":5,"utc":true},"type":"temporal","axis":null},"y":{"field":"v","type":"quantitative"},"text":{"field":"t"}}}
]
},
{
"width":742,"height":54,
"layer":[
{"data":{"name":"candles"},"mark":{"type":"bar","size":2.6},
 "encoding":{"x":{"field":"d","type":"temporal","scale":{"type":"utc","domain":[{"year":2001,"month":2,"date":27,"utc":true},{"year":2015,"month":12,"date":5,"utc":true}]},"axis":null},
 "y":{"field":"v","type":"quantitative","scale":{"domain":[0,331],"nice":false},"axis":{"orient":"right","values":[100,200,300],"labelExpr":"datum.value + 'M'","labelFontSize":11,"labelOverlap":false,"tickSize":4,"labelPadding":4,"title":null}},
 "fill":{"condition":{"test":"datum.c >= datum.o","value":"#330033"},"value":"#dd0000"}}},
{"data":{"values":[{"z":0}]},"mark":{"type":"rule","strokeWidth":1},
 "encoding":{"y":{"field":"z","type":"quantitative"},"stroke":{"datum":"Volumen","type":"nominal","scale":{"domain":["Volumen"],"range":["#999999"]},"legend":{"title":null,"symbolType":"circle","symbolSize":0,"labelOffset":-10,"encode":{"symbols":{"update":{"size":{"value":0}}},"labels":{"update":{"fill":{"value":"#000000"}}}}}}}},
{"data":{"values":[{"v":60.2,"t":"60,2M"}]},"mark":{"type":"point","shape":"M-1,-0.4L1,-0.4L1,0.4L-1,0.4Z","size":1156,"filled":true,"fill":"#ffffff","stroke":"#9a9a9a","strokeWidth":1,"opacity":1,"xOffset":22},
 "encoding":{"x":{"datum":{"year":2015,"month":12,"date":5,"utc":true},"type":"temporal","axis":null},"y":{"field":"v","type":"quantitative"}}},
{"data":{"values":[{"v":60.2,"t":"60,2M"}]},"mark":{"type":"text","align":"center","baseline":"middle","dx":22,"fontSize":11,"fill":"#000000"},
 "encoding":{"x":{"datum":{"year":2015,"month":12,"date":5,"utc":true},"type":"temporal","axis":null},"y":{"field":"v","type":"quantitative"},"text":{"field":"t"}}}
]
},
{
"width":742,"height":57,
"layer":[
{"data":{"name":"stoch"},"transform":[{"fold":["k","d"],"as":["key","val"]},{"joinaggregate":[{"op":"max","field":"val","as":"top"}],"groupby":["date"]},{"filter":"datum.key == 'd'"}],
 "mark":{"type":"area","fill":"#aab0e2","opacity":1},
 "encoding":{"x":{"field":"date","type":"temporal","scale":{"type":"utc","domain":[{"year":2001,"month":2,"date":27,"utc":true},{"year":2015,"month":12,"date":5,"utc":true}]},
 "axis":{"orient":"bottom","tickCount":{"interval":"year","step":1},"labelExpr":"utcFormat(datum.value, '%Y')","labelFontSize":12,"tickSize":5,"labelPadding":2,"labelOverlap":false,"labelFlush":false,"title":null}},
 "y":{"field":"val","type":"quantitative","scale":{"domain":[-4.4,104.9],"nice":false,"zero":false},"axis":{"orient":"right","values":[0,50],"labelFontSize":11,"labelOverlap":false,"tickSize":4,"labelPadding":4,"title":null}},
 "y2":{"field":"top"}}},
{"data":{"name":"stoch"},"transform":[{"fold":["k","d"],"as":["key","val"]},{"joinaggregate":[{"op":"max","field":"val","as":"top"}],"groupby":["date"]},{"filter":"datum.key == 'k'"}],
 "mark":{"type":"area","fill":"#f6c4c4","opacity":1},
 "encoding":{"x":{"field":"date","type":"temporal"},"y":{"field":"val","type":"quantitative"},"y2":{"field":"top"}}},
{"data":{"values":[{"l":80},{"l":20}]},"mark":{"type":"rule","stroke":"#2b2bd6","strokeWidth":1},
 "encoding":{"y":{"field":"l","type":"quantitative"}}},
{"data":{"name":"stoch"},"mark":{"type":"line","strokeDash":[3,2],"strokeWidth":1},
 "encoding":{"x":{"field":"date","type":"temporal"},"y":{"field":"d","type":"quantitative"},"color":{"datum":"%D (14 3 5)","type":"nominal"}}},
{"data":{"name":"stoch"},"mark":{"type":"line","strokeWidth":1},
 "encoding":{"x":{"field":"date","type":"temporal"},"y":{"field":"k","type":"quantitative"},
 "color":{"datum":"%K","type":"nominal","scale":{"domain":["%K","%D (14 3 5)"],"range":["#000000","#e06666"]},
 "legend":{"title":null,"symbolType":"circle","symbolSize":0,"labelOffset":-10,"columnPadding":5,"encode":{"symbols":{"update":{"size":{"value":0}}},"labels":{"update":{"fill":{"signal":"datum.value === '%K' ? '#000000' : '#e06666'"}}}}}}}},
{"data":{"values":[{"v":89.2,"t":"89,209"}]},"mark":{"type":"point","shape":"M-1,-0.38L1,-0.38L1,0.38L-1,0.38Z","size":1296,"filled":true,"fill":"#ffffff","stroke":"#9a9a9a","strokeWidth":1,"opacity":1,"xOffset":23},
 "encoding":{"x":{"datum":{"year":2015,"month":12,"date":5,"utc":true},"type":"temporal"},"y":{"field":"v","type":"quantitative"}}},
{"data":{"values":[{"v":89.2,"t":"89,209"}]},"mark":{"type":"text","align":"center","baseline":"middle","dx":23,"fontSize":11,"fill":"#000000"},
 "encoding":{"x":{"datum":{"year":2015,"month":12,"date":5,"utc":true},"type":"temporal"},"y":{"field":"v","type":"quantitative"},"text":{"field":"t"}}},
{"data":{"values":[{"v":68.4,"t":"69,441"}]},"mark":{"type":"point","shape":"M-1,-0.38L1,-0.38L1,0.38L-1,0.38Z","size":1296,"filled":true,"fill":"#ffffff","stroke":"#9a9a9a","strokeWidth":1,"opacity":1,"xOffset":23},
 "encoding":{"x":{"datum":{"year":2015,"month":12,"date":5,"utc":true},"type":"temporal"},"y":{"field":"v","type":"quantitative"}}},
{"data":{"values":[{"v":68.4,"t":"69,441"}]},"mark":{"type":"text","align":"center","baseline":"middle","dx":23,"fontSize":11,"fill":"#e06666"},
 "encoding":{"x":{"datum":{"year":2015,"month":12,"date":5,"utc":true},"type":"temporal"},"y":{"field":"v","type":"quantitative"},"text":{"field":"t"}}}
]
}
],
"resolve":{"scale":{"x":"independent","y":"independent","color":"independent","stroke":"independent"},"legend":{"color":"independent","stroke":"independent"},"axis":{"x":"independent","y":"independent"}}
}
